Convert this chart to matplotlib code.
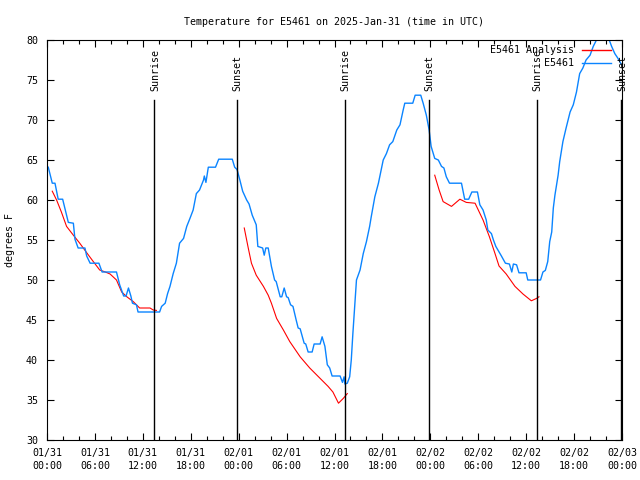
import numpy as np
import matplotlib
matplotlib.use("Agg")
import matplotlib.pyplot as plt
from matplotlib.ticker import MultipleLocator

plt.rcParams.update({
    "font.family": "DejaVu Sans Mono",
    "font.size": 7.2,
})

# hours since 2025-01-31 00:00 UTC
obs_hours = [0.16, 0.66, 1.0, 1.4, 1.96, 2.67, 3.3, 3.5, 3.9, 4.75, 4.97, 5.4, 6.5, 6.9, 8.7,
             9.1, 9.6, 9.9, 10.2, 10.5, 10.7, 11.2, 11.4, 14.1, 14.35, 14.8, 15.1, 15.4, 15.8,
             16.2, 16.6, 17.1, 17.5, 17.9, 18.3, 18.7, 19.1, 19.6, 19.7, 19.9, 20.2, 21.1, 21.5,
             23.2, 23.5, 23.8, 24.15, 24.5, 25.0, 25.3, 25.7, 26.2, 26.4, 27.0, 27.2, 27.4, 27.7,
             28.1, 28.5, 28.7, 29.2, 29.4, 29.7, 30.0, 30.2, 30.5, 30.8, 31.2, 31.45, 31.7, 32.2,
             32.4, 32.7, 33.2, 33.45, 34.2, 34.45, 34.8, 35.1, 35.4, 35.7, 36.7, 37.0, 37.2, 37.3,
             37.6, 37.9, 38.1, 38.3, 38.55, 38.75, 39.2, 39.6, 40.0, 40.4, 40.6, 41.05, 41.5, 42.1,
             42.5, 42.9, 43.3, 43.8, 44.2, 44.6, 44.8, 45.8, 46.1, 46.8, 47.1, 47.5, 47.85, 48.1,
             48.55, 49.0, 49.4, 49.7, 50.0, 50.4, 51.9, 52.3, 52.8, 53.2, 53.9, 54.2, 54.6, 55.0,
             55.2, 55.65, 55.9, 56.2, 56.9, 57.4, 57.9, 58.2, 58.4, 58.8, 59.1, 60.0, 60.2, 61.8,
             62.1, 62.4, 62.7, 62.95, 63.2, 63.4, 63.6, 64.0, 64.2, 64.6, 65.0, 65.5, 65.9, 66.3,
             66.7, 67.1, 67.5, 68.0, 68.4, 68.8, 69.3, 69.8, 70.4, 70.7, 71.1, 71.5, 71.95]
obs_temp = [64.1, 62.1, 62.1, 60.1, 60.1, 57.2, 57.1, 55.1, 54.0, 54.0, 53.0, 52.1, 52.1, 51.0, 51.0,
            49.4, 48.0, 48.0, 49.0, 48.0, 47.1, 46.9, 46.0, 46.0, 46.7, 47.1, 48.3, 49.2, 50.8,
            52.1, 54.6, 55.2, 56.7, 57.7, 58.75, 60.8, 61.25, 62.5, 63.0, 62.2, 64.1, 64.1, 65.1,
            65.1, 64.1, 63.8, 62.5, 61.1, 60.0, 59.5, 58.1, 56.9, 54.2, 54.0, 53.1, 54.0, 54.0,
            51.7, 50.0, 49.8, 47.9, 47.9, 49.0, 47.9, 47.8, 46.9, 46.7, 45.0, 44.0, 43.9, 42.1,
            42.0, 41.0, 41.0, 42.0, 42.0, 42.9, 41.7, 39.4, 39.0, 38.0, 38.0, 37.2, 37.9, 37.0,
            37.1, 37.9, 40.0, 43.3, 47.0, 50.0, 51.25, 53.3, 54.8, 56.7, 57.9, 60.4, 62.1, 65.0,
            65.8, 66.9, 67.3, 68.75, 69.4, 71.25, 72.1, 72.1, 73.1, 73.1, 72.1, 70.6, 68.75, 66.7,
            65.2, 65.0, 64.2, 64.0, 62.9, 62.1, 62.1, 60.1, 60.1, 61.0, 61.0, 59.4, 58.75, 57.5,
            56.25, 55.8, 55.0, 54.2, 53.0, 52.1, 52.0, 51.0, 52.0, 51.9, 50.9, 50.9, 50.0, 50.0,
            51.0, 51.2, 52.3, 54.8, 56.0, 59.0, 60.6, 63.1, 64.8, 67.3, 69.0, 71.0, 71.9, 73.5,
            75.8, 76.5, 77.5, 78.1, 79.2, 80.0, 81.0, 81.0, 80.0, 79.2, 78.3, 77.7, 76.9]

# analysis series, three nightly runs separated by NaN
ana_hours = [0.66, 1.2, 1.8, 2.45, 3.3, 4.1, 5.2, 5.8, 6.6, 7.3, 7.9, 8.7, 9.35, 10.0, 10.8, 11.6,
             12.9, 13.3, 13.7, 19.0,
             24.7, 25.2, 25.6, 26.2, 27.1, 27.7, 28.1, 28.75, 29.6, 30.4, 31.7, 32.9, 34.2, 35.2,
             35.8, 36.5, 37.1, 37.6, 43.0,
             48.55, 49.1, 49.6, 50.65, 51.7, 52.5, 53.6, 54.6, 55.4, 56.1, 56.6, 57.5, 58.6, 59.6,
             60.65, 61.3, 61.6]
ana_temp = [61.1, 60.0, 58.5, 56.7, 55.6, 54.6, 53.1, 52.3, 51.25, 51.0, 50.75, 50.0, 48.5, 47.9,
            47.3, 46.5, 46.5, 46.25, 46.2, np.nan,
            56.5, 54.0, 52.1, 50.6, 49.2, 48.1, 47.1, 45.2, 43.75, 42.3, 40.4, 39.0, 37.7, 36.7,
            36.0, 34.6, 35.2, 35.8, np.nan,
            63.1, 61.25, 59.8, 59.2, 60.1, 59.7, 59.6, 57.5, 55.4, 53.3, 51.75, 50.75, 49.2, 48.25,
            47.4, 47.7, 47.9]

sun_hours = [13.44, 23.79, 37.3, 47.8, 61.35, 71.9]
sun_labels = ["Sunrise", "Sunset", "Sunrise", "Sunset", "Sunrise", "Sunset"]

tick_labels = ["01/31\n00:00", "01/31\n06:00", "01/31\n12:00", "01/31\n18:00",
               "02/01\n00:00", "02/01\n06:00", "02/01\n12:00", "02/01\n18:00",
               "02/02\n00:00", "02/02\n06:00", "02/02\n12:00", "02/02\n18:00",
               "02/03\n00:00"]

BLUE = "#0a84ff"
RED = "#ff0000"

fig = plt.figure(figsize=(6.4, 4.8), dpi=100)
ax = fig.add_axes([47 / 640, 40 / 480, 575 / 640, 400 / 480])

ax.plot(ana_hours, ana_temp, color=RED, lw=0.8)
ax.plot(obs_hours, obs_temp, color=BLUE, lw=1.0)

for h, lab in zip(sun_hours, sun_labels):
    ax.plot([h, h], [30, 72.5], color="black", lw=1.0)
    ax.text(h + 0.1, 73.6, lab, rotation=90, ha="center", va="bottom",
            fontsize=7.2, clip_on=False)

ax.set_xlim(0, 72)
ax.set_ylim(30, 80)
ax.set_xticks(np.arange(0, 73, 6))
ax.set_xticklabels(tick_labels, linespacing=1.35)
ax.xaxis.set_minor_locator(MultipleLocator(2))
ax.yaxis.set_major_locator(MultipleLocator(5))
ax.tick_params(which="both", direction="in", top=True, right=True, labelsize=7.2)
ax.tick_params(which="major", length=5, width=0.8)
ax.tick_params(which="minor", length=3, width=0.8)
ax.tick_params(axis="x", pad=6)
ax.tick_params(axis="y", pad=6.5)
ax.set_ylabel("degrees F", fontsize=7.2, labelpad=8)
ax.set_title("Temperature for E5461 on 2025-Jan-31 (time in UTC)", fontsize=7.2, pad=11)

# gnuplot-style key: text right-justified, sample line to its right
for i, (lab, col) in enumerate([("E5461 Analysis", RED), ("E5461", BLUE)]):
    yk = 0.975 - i * 0.0325
    ax.text(0.917, yk, lab, transform=ax.transAxes, ha="right", va="center", fontsize=7.2)
    ax.plot([0.93, 0.98], [yk, yk], transform=ax.transAxes, color=col, lw=1.0)

fig.savefig("out.png", dpi=100)
